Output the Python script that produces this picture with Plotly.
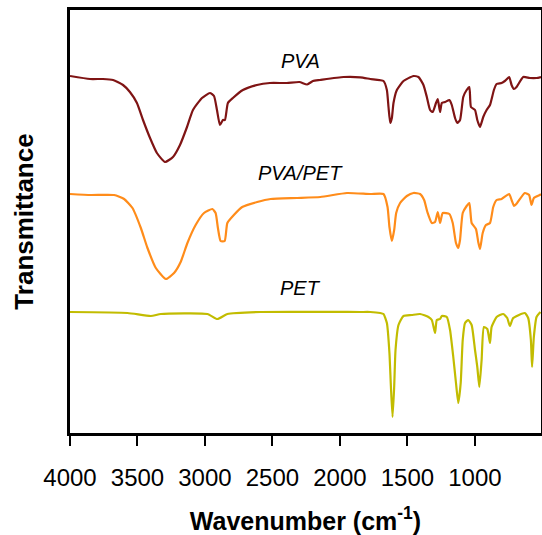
import plotly.graph_objects as go

# ---- data (wavenumber in cm-1, transmittance in a.u., curves stacked) ----
pva_wn = [4000, 3852, 3756, 3681, 3607, 3556, 3504, 3459, 3407, 3356, 3296, 3237, 3185, 3133,
          3089, 3022, 2963, 2933, 2911, 2889, 2867, 2852, 2830, 2793, 2719, 2615, 2519, 2393,
          2300, 2243, 2200, 2148, 1973, 1849, 1775, 1677, 1652, 1640, 1627, 1615, 1603, 1578,
          1529, 1455, 1418, 1381, 1356, 1332, 1312, 1288, 1275, 1258, 1245, 1221, 1189, 1171,
          1147, 1130, 1110, 1086, 1061, 1041, 1029, 999, 982, 962, 938, 913, 888, 859, 839,
          802, 778, 746, 728, 711, 691, 642, 593, 543, 510]
pva_t = [357, 354, 354, 353, 348, 341, 330, 313, 295, 280, 271, 276, 288, 306,
         323, 335, 340, 337, 323, 308, 313, 313, 330, 335, 343, 348, 350, 350,
         351, 348.5, 352, 353, 356, 355.7, 354, 352, 343, 326, 310, 315, 330, 343,
         352, 357, 356, 348, 336, 323, 321, 330, 334, 321, 330, 331, 333, 328,
         315, 310, 313, 336, 343, 346, 326, 323, 313, 306, 316, 323, 328, 343, 349,
         350, 352, 356, 348, 344, 346, 356, 355, 355, 356]

blend_wn = [4000, 3845, 3673, 3599, 3537, 3475, 3426, 3364, 3290, 3229, 3180, 3130, 3069, 3007,
            2945, 2921, 2904, 2884, 2854, 2834, 2786, 2724, 2613, 2514, 2317, 2145, 1948, 1775,
            1677, 1647, 1633, 1615, 1598, 1583, 1554, 1504, 1455, 1406, 1376, 1352, 1319, 1295,
            1275, 1258, 1238, 1189, 1164, 1140, 1123, 1110, 1090, 1061, 1041, 1024, 992, 975,
            962, 942, 918, 888, 864, 839, 802, 746, 728, 709, 687, 630, 598, 580, 563, 519, 510]
blend_t = [239, 238, 238, 234, 225, 205, 185, 165, 154, 160, 171, 190, 208, 220,
           224, 220, 205, 192, 192, 210, 218, 226, 231, 234, 235, 236, 240, 239,
           239, 226, 206, 192, 203, 220, 230, 237, 240, 239, 233, 221, 210, 211,
           221, 210, 220, 219, 210, 190, 185, 193, 220, 227, 230, 210, 204, 191,
           184, 200, 208, 210, 226, 233, 234, 239, 233, 227, 230, 240, 238, 228, 235, 238, 239]

pet_wn = [4000, 3574, 3401, 3327, 2982, 2908, 2834, 2588, 1849, 1775, 1701, 1677, 1652, 1633,
          1622, 1610, 1598, 1588, 1566, 1529, 1467, 1406, 1344, 1319, 1295, 1282, 1258, 1245,
          1208, 1184, 1160, 1140, 1123, 1105, 1090, 1073, 1049, 1024, 999, 982, 967, 950, 933,
          908, 888, 876, 839, 790, 760, 741, 716, 630, 605, 585, 576, 563, 543, 514]
pet_t = [121, 120, 117, 119, 119, 114, 119, 121, 121, 121, 120, 119, 110, 80,
         46, 16, 46, 83, 108, 117, 118, 119, 116, 113, 100, 113, 114, 117,
         116, 103, 76, 50, 30, 50, 93, 110, 113, 108, 83, 66, 46, 73, 106,
         104, 90, 106, 116, 119, 115, 107, 115, 120, 115, 93, 66, 96, 116, 121]

series_names = ["PVA", "PVA/PET", "PET"]
x_ticks = [4000, 3500, 3000, 2500, 2000, 1500, 1000]

colors = ["#7f1414", "#ff8c1a", "#c2bc00"]
xs = [pva_wn, blend_wn, pet_wn]
ys = [pva_t, blend_t, pet_t]

fig = go.Figure()
for name, x, y, c in zip(series_names, xs, ys, colors):
    fig.add_trace(go.Scatter(x=x, y=y, mode="lines", name=name,
                             line=dict(color=c, width=2.2, shape="spline", smoothing=0.5),
                             showlegend=False))

label_pos = [(2290, 372), (2290, 260), (2290, 145)]
for name, (lx, ly) in zip(series_names, label_pos):
    fig.add_annotation(x=lx, y=ly, text=f"<i>{name}</i>", showarrow=False,
                       font=dict(size=20, color="black", family="Liberation Sans, Arial"),
                       xanchor="center", yanchor="middle")

fig.update_layout(
    width=542, height=535,
    margin=dict(l=70, r=1, t=10, b=102, autoexpand=False),
    paper_bgcolor="white", plot_bgcolor="white",
    font=dict(family="Liberation Sans, Arial", color="black"),
)
fig.update_xaxes(
    range=[4000, 510], tickvals=x_ticks, ticktext=[str(v) for v in x_ticks],
    ticks="outside", ticklen=10, tickwidth=2, tickcolor="black",
    tickfont=dict(size=24, color="black"), ticklabelstandoff=11,
    showline=True, linewidth=2.5, linecolor="black", mirror=True,
    showgrid=False, zeroline=False, automargin=False,
    title=dict(text="<b>Wavenumber (cm<sup>-1</sup>)</b>", font=dict(size=25, color="black"),
               standoff=24),
)
fig.update_yaxes(
    range=[0, 423], showticklabels=False, ticks="",
    showline=True, linewidth=2.5, linecolor="black", mirror=True,
    showgrid=False, zeroline=False, automargin=False,
    title=dict(text="<b>Transmittance</b>", font=dict(size=26, color="black"), standoff=27),
)

fig.write_html("out.html", config={"displayModeBar": False},
               post_script="document.body.style.margin='0';")
